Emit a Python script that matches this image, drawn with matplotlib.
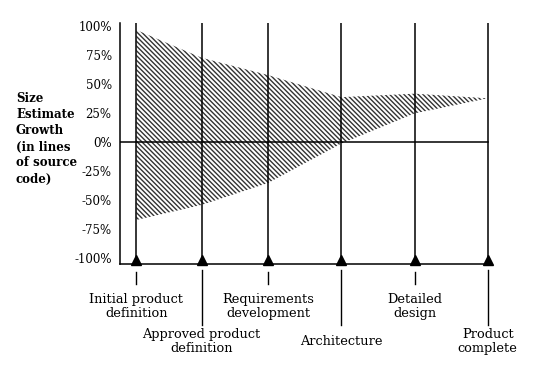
import numpy as np
import matplotlib
matplotlib.use('Agg')
import matplotlib.pyplot as plt

# milestones along the project timeline (relative time units)
milestones = [0, 1, 2.02, 3.14, 4.26, 5.38]
upper = [97, 73, 58, 39, 42, 38]     # % growth, top of the cone
lower = [-67, -54, -35, -1, 25, 38]  # % growth, bottom of the cone
labels = ['Initial product\ndefinition', 'Approved product\ndefinition',
          'Requirements\ndevelopment', 'Architecture',
          'Detailed\ndesign', 'Product\ncomplete']
yticks = [100, 75, 50, 25, 0, -25, -50, -75, -100]
ylabel = 'Size\nEstimate\nGrowth\n(in lines\nof source\ncode)'

plt.rcParams['font.family'] = 'DejaVu Serif'
plt.rcParams['hatch.linewidth'] = 1.0

fig = plt.figure(figsize=(5.52, 3.70), dpi=100)
ax = fig.add_axes([120 / 552, 106 / 370, 371 / 552, 241 / 370])
ax.set_xlim(-0.25, milestones[-1] + 0.05)
ax.set_ylim(-105, 103)

# the cone
ax.fill_between(milestones, lower, upper, facecolor='none', edgecolor='#333333',
                linewidth=0, hatch='\\' * 7)

# zero line and milestone lines
ax.plot([-0.25, milestones[-1]], [0, 0], color='black', lw=1.1)
for i, x in enumerate(milestones):
    ax.axvline(x, color='black', lw=1.1)
    ax.plot(x, -101.5, marker='^', color='black', ms=7, clip_on=False)
    if i % 2 == 0:
        ax.plot([x, x], [-112, -122], color='black', lw=1, clip_on=False)
        ax.text(x, -141.5, labels[i], ha='center', va='center', fontsize=9.3,
                linespacing=1.1)
    else:
        ax.plot([x, x], [-110, -158], color='black', lw=1, clip_on=False)
        ax.text(x, -171.5, labels[i], ha='center', va='center', fontsize=9.3,
                linespacing=1.1)

for s in ['top', 'right']:
    ax.spines[s].set_visible(False)
ax.spines['left'].set_linewidth(1.1)
ax.spines['bottom'].set_linewidth(1.1)
ax.set_xticks([])
ax.set_yticks(yticks)
ax.set_yticklabels([f'{v}%' for v in yticks], fontsize=8.5)
ax.tick_params(axis='y', length=0, pad=6)

fig.text(16 / 552, 1 - 139 / 370, ylabel, ha='left', va='center', fontsize=8.5,
         fontweight='bold', linespacing=1.3)

fig.savefig('out.png', dpi=100)
